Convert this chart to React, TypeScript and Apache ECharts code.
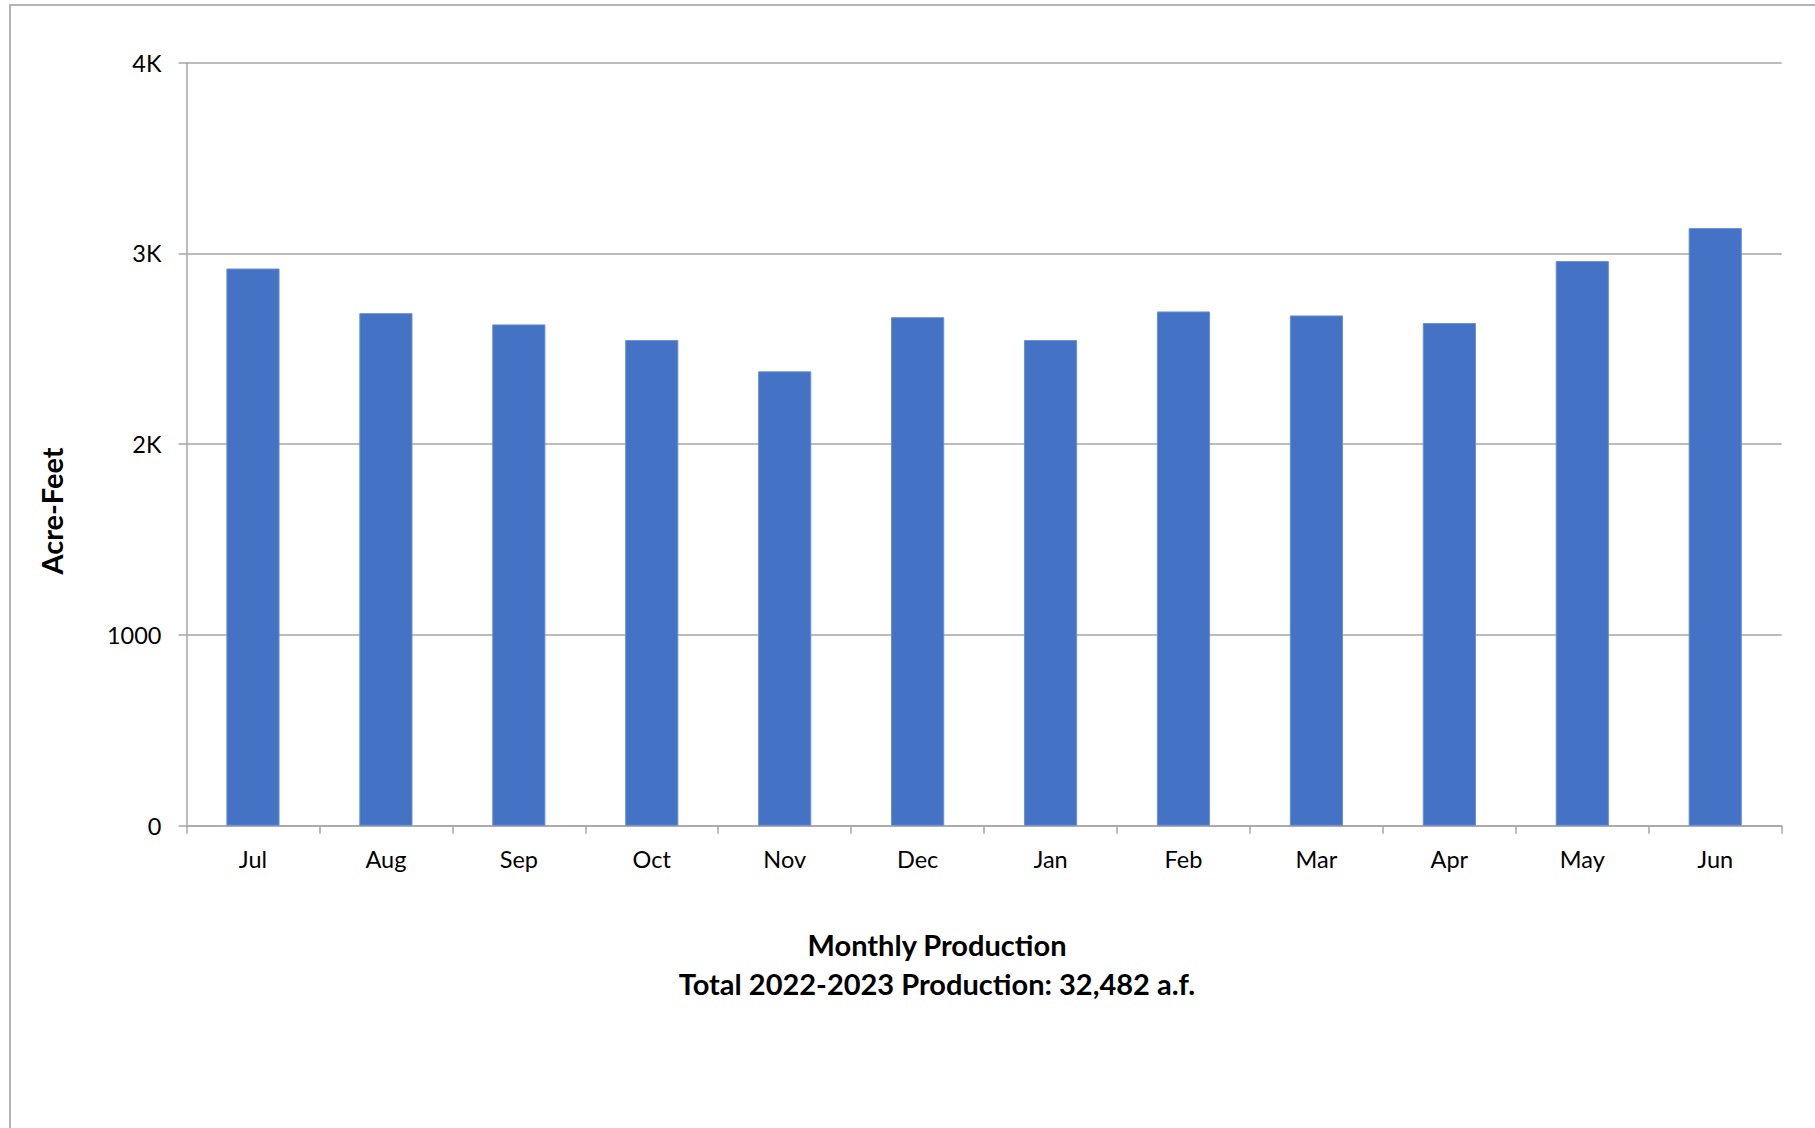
import React, { useEffect, useRef } from "react";
import * as echarts from "echarts";

const months = ["Jul", "Aug", "Sep", "Oct", "Nov", "Dec", "Jan", "Feb", "Mar", "Apr", "May", "Jun"];
const production = [2921, 2687, 2628, 2546, 2382, 2666, 2546, 2696, 2675, 2635, 2960, 3133];
const yTickValues = [0, 1000, 2000, 3000, 4000];
const yTickLabels = ["0", "1000", "2K", "3K", "4K"];
const yAxisTitle = "Acre-Feet";
const titleLine1 = "Monthly Production";
const titleLine2 = "Total 2022-2023 Production: 32,482 a.f.";

const FONT = "Lato, 'Noto Sans', sans-serif";

export default function App() {
  const ref = useRef<HTMLDivElement>(null);
  useEffect(() => {
    document.body.style.margin = "0";
    const chart = echarts.init(ref.current!, null, { renderer: "svg" });
    chart.setOption({
      animation: false,
      backgroundColor: "#ffffff",
      textStyle: { fontFamily: FONT },
      grid: { left: 186.5, right: 33.3, top: 62.7, bottom: 302.3, containLabel: false },
      xAxis: {
        type: "category",
        data: months,
        axisLine: { lineStyle: { color: "#a6a6a6", width: 1.5 } },
        axisTick: { show: true, length: 8, lineStyle: { color: "#a6a6a6", width: 1.5 } },
        axisLabel: { color: "#000", fontSize: 23.5, fontFamily: FONT, margin: 21 },
      },
      yAxis: {
        type: "value",
        min: 0,
        max: 4000,
        interval: 1000,
        axisLine: { show: true, lineStyle: { color: "#a6a6a6", width: 1.5 } },
        axisTick: { show: true, length: 8, lineStyle: { color: "#a6a6a6", width: 1.5 } },
        splitLine: { show: true, lineStyle: { color: "#a6a6a6", width: 1.5 } },
        axisLabel: {
          color: "#000",
          fontSize: 23.5,
          fontFamily: FONT,
          margin: 25,
          formatter: (v: number) => {
            const i = yTickValues.indexOf(v);
            return i >= 0 ? yTickLabels[i] : String(v);
          },
        },
      },
      series: [
        {
          type: "bar",
          data: production,
          barCategoryGap: "60%",
          itemStyle: { color: "#4472C4", borderColor: "#6a8fd3", borderWidth: 1 },
        },
      ],
      graphic: [
        {
          type: "rect",
          shape: { x: 10, y: 5, width: 1900, height: 1300 },
          style: { fill: "none", stroke: "#b3b3b3", lineWidth: 2 },
          silent: true,
        },
        {
          type: "text",
          x: 51,
          y: 511,
          rotation: Math.PI / 2,
          style: {
            text: yAxisTitle,
            fontSize: 29,
            fontWeight: "bold",
            fontFamily: FONT,
            fill: "#000",
            align: "center",
            verticalAlign: "middle",
          },
        },
        {
          type: "text",
          x: 937,
          y: 944.5,
          style: {
            text: titleLine1,
            fontSize: 29,
            fontWeight: "bold",
            fontFamily: FONT,
            fill: "#000",
            align: "center",
            verticalAlign: "middle",
          },
        },
        {
          type: "text",
          x: 937,
          y: 983,
          style: {
            text: titleLine2,
            fontSize: 29,
            fontWeight: "bold",
            fontFamily: FONT,
            fill: "#000",
            align: "center",
            verticalAlign: "middle",
          },
        },
      ],
    });
    return () => chart.dispose();
  }, []);
  return <div ref={ref} style={{ position: "fixed", left: 0, top: 0, width: 1815, height: 1128 }} />;
}
